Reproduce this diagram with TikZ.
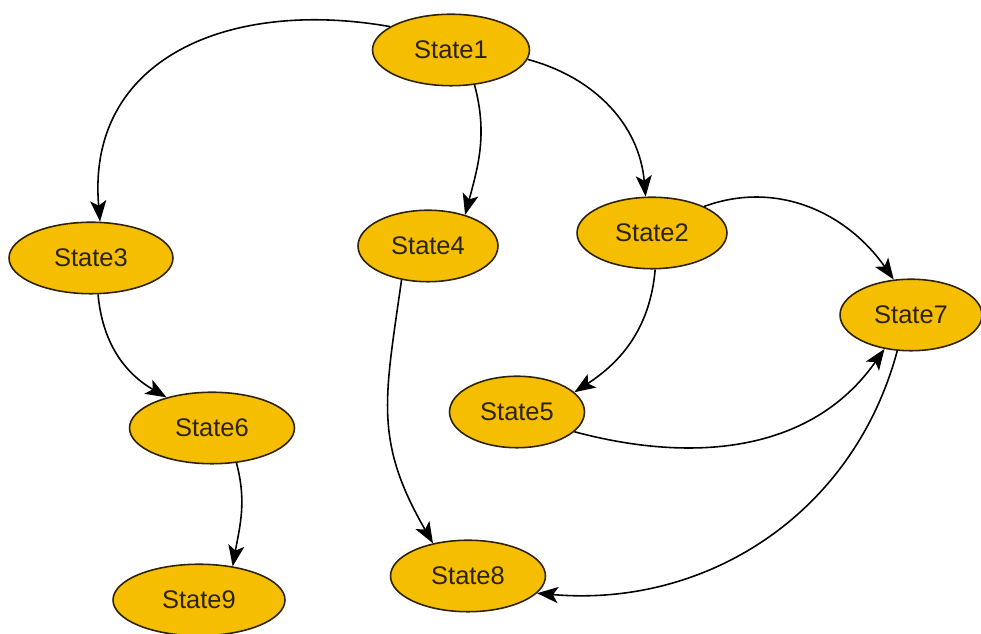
\documentclass[tikz,border=0pt]{standalone}
\usepackage{fontspec}
\setmainfont{Liberation Sans}
\usetikzlibrary{arrows.meta,shapes.geometric}
\definecolor{statefill}{RGB}{245,190,0}
\definecolor{stateline}{RGB}{45,35,10}

\begin{document}
\begin{tikzpicture}[x=0.02cm,y=0.02cm,
  state/.style={ellipse,draw=stateline,line width=0.9pt,fill=statefill,text=stateline,
    minimum height=1.43cm,inner sep=0pt,font=\fontsize{14.5}{17}\selectfont},
  edge/.style={line width=0.9pt,-{Stealth[length=0.42cm,width=0.32cm,inset=0.1cm]}}]

\useasboundingbox (0,0) rectangle (981,634);

\node[state,minimum width=3.14cm] (s1) at (451,584) {State1};
\node[state,minimum width=3.28cm] (s3) at (91,376) {State3};
\node[state,minimum width=2.8cm] (s4) at (428,388) {State4};
\node[state,minimum width=3.0cm] (s2) at (652,401) {State2};
\node[state,minimum width=2.84cm] (s7) at (911,319) {State7};
\node[state,minimum width=3.3cm] (s6) at (212,206) {State6};
\node[state,minimum width=2.7cm] (s5) at (517,222) {State5};
\node[state,minimum width=3.44cm] (s9) at (199,34) {State9};
\node[state,minimum width=3.1cm] (s8) at (468,58) {State8};

\draw[edge] (s1.159) to[out=170,in=95,looseness=1.2] (s3.76);
\draw[edge] (s1.-56) to[out=-75,in=75] (s4.40);
\draw[edge] (s1.-7) to[out=-15,in=95] (s2.100);
\draw[edge] (s2.27) to[out=20,in=125] (s7.116);
\draw[edge] (s2.-85) to[out=-95,in=33] (s5.19);
\draw[edge] (s5.-19) to[out=-15,in=-125] (s7.-128);
\draw[edge] (s7.-111) to[out=-105,in=-5] (s8.-14);
\draw[edge] (s4.-128) to[out=-98,in=120,looseness=1.15] (s8.137);
\draw[edge] (s3.-79) to[out=-85,in=150] (s6.146);
\draw[edge] (s6.-55) to[out=-75,in=80] (s9.45);
\end{tikzpicture}
\end{document}
